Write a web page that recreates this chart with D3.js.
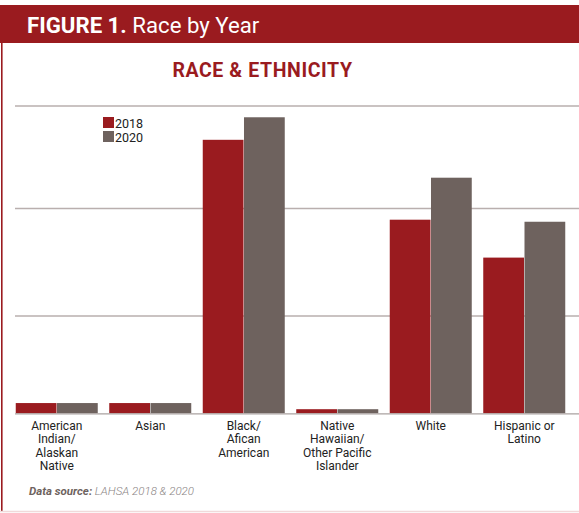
<!DOCTYPE html>
<html><head><meta charset="utf-8">
<script src="https://cdn.jsdelivr.net/npm/d3@7"></script>
<style>body{margin:0;background:#fff;}svg{display:block;}</style>
</head><body>
<script>
const categories = [["American","Indian/","Alaskan","Native"],["Asian"],["Black/","Afican","American"],["Native","Hawaiian/","Other Pacific","Islander"],["White"],["Hispanic or","Latino"]];
const categoryKeys = ["American Indian/Alaskan Native","Asian","Black/Afican American","Native Hawaiian/Other Pacific Islander","White","Hispanic or Latino"];
const years = ["2018","2020"];
const values2018 = [1.0, 1.0, 26.7, 0.4, 18.9, 15.2];
const values2020 = [1.0, 1.0, 28.9, 0.4, 23.0, 18.7];
const gridValues = [0, 9.5, 20, 30];
const colors = ["#9A1B1F","#6E625E"];

const W=579,H=513;
const svg=d3.select("body").append("svg").attr("width",W).attr("height",H);
const font="Roboto, 'Open Sans', sans-serif";

// frame
svg.append("rect").attr("x",0).attr("y",5).attr("width",W).attr("height",38).attr("fill","#9A1B1F");
svg.append("line").attr("x1",1.8).attr("x2",1.8).attr("y1",43).attr("y2",511).attr("stroke","#9A1B1F").attr("stroke-width",1.6);
svg.append("line").attr("x1",0).attr("x2",W).attr("y1",511.5).attr("y2",511.5).attr("stroke","#f0dada").attr("stroke-width",1.5);

const t=svg.append("text").attr("x",27).attr("y",33).attr("fill","#fff").attr("font-family",font).attr("font-size",22.2);
t.append("tspan").attr("font-weight",700).text("FIGURE 1.");
t.append("tspan").attr("font-weight",400).text(" Race by Year");

svg.append("text").attr("x",262.5).attr("y",77).attr("text-anchor","middle").attr("fill","#9A1B1F")
  .attr("font-family",font).attr("font-weight",700).attr("font-size",19.5).attr("letter-spacing",0.6).text("RACE & ETHNICITY");

const y=d3.scaleLinear().domain([0,30]).range([413.3,106]);
const x0=d3.scaleBand().domain(categoryKeys).range([10,571]).paddingInner(0.123).paddingOuter(0.0615);
const x1=d3.scaleBand().domain(years).range([0,x0.bandwidth()]).paddingInner(0.012);

// grid
svg.append("g").selectAll("line").data(gridValues.slice(1)).join("line")
  .attr("x1",15).attr("x2",W).attr("y1",d=>y(d)).attr("y2",d=>y(d))
  .attr("stroke","#b9afae").attr("stroke-width",1.5);

const series=[values2018,values2020];
const g=svg.append("g");
categoryKeys.forEach((c,i)=>{
  years.forEach((yr,j)=>{
    const v=series[j][i];
    g.append("rect").attr("x",x0(c)+x1(yr)).attr("width",x1.bandwidth())
      .attr("y",y(v)).attr("height",y(0)-y(v)).attr("fill",colors[j]);
  });
});
// baseline
svg.append("line").attr("x1",15).attr("x2",W).attr("y1",y(0)+0.5).attr("y2",y(0)+0.5).attr("stroke","#aaa2a0").attr("stroke-width",1.3);

// category labels
categoryKeys.forEach((c,i)=>{
  const tx=svg.append("text").attr("text-anchor","middle").attr("font-family",font).attr("font-size",12).attr("fill","#222");
  categories[i].forEach((ln,k)=>{
    tx.append("tspan").attr("x",x0(c)+x0.bandwidth()/2).attr("y",430+k*13.4).text(ln);
  });
});

// legend
years.forEach((yr,j)=>{
  svg.append("rect").attr("x",103).attr("y",117+j*14).attr("width",11).attr("height",11).attr("fill",colors[j]);
  svg.append("text").attr("x",115).attr("y",128+j*14).attr("font-family",font).attr("font-size",12.5).attr("fill","#222").text(yr);
});

// source
const s=svg.append("text").attr("x",29).attr("y",495).attr("font-family",font).attr("font-size",11.5).attr("font-style","italic");
s.append("tspan").attr("font-weight",700).attr("fill","#6e6360").text("Data source:");
s.append("tspan").attr("font-weight",300).attr("fill","#8a8484").text(" LAHSA 2018 & 2020");
</script>
</body></html>
